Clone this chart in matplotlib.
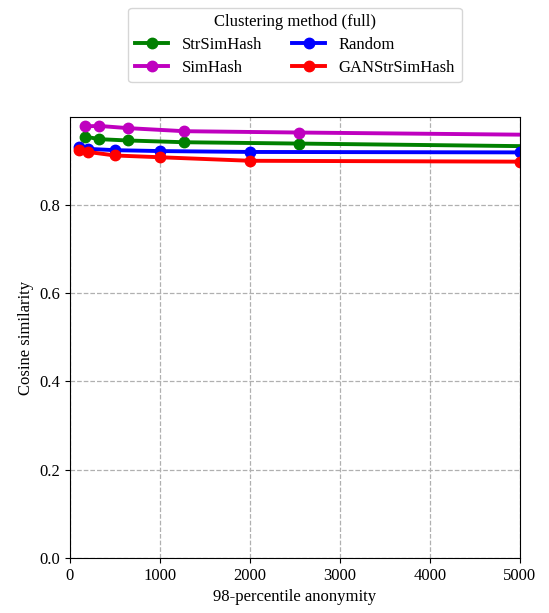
import matplotlib
matplotlib.use("Agg")
import matplotlib.pyplot as plt

plt.rcParams["font.family"] = ["Liberation Serif", "DejaVu Serif"]
plt.rcParams["font.size"] = 12

# 98-percentile anonymity vs cosine similarity, per clustering method
x_doubling = [167, 322, 641, 1270, 2544, 5090]
strsimhash = [0.955, 0.949, 0.946, 0.942, 0.939, 0.933]
simhash = [0.978, 0.979, 0.974, 0.967, 0.964, 0.959]

x_fixed = [100, 200, 500, 1000, 2000, 5000]
random_ = [0.931, 0.927, 0.924, 0.922, 0.920, 0.919]
ganstrsimhash = [0.924, 0.920, 0.912, 0.908, 0.900, 0.898]

series = [
    ("StrSimHash", x_doubling, strsimhash, "g"),
    ("SimHash", x_doubling, simhash, "m"),
    ("Random", x_fixed, random_, "b"),
    ("GANStrSimHash", x_fixed, ganstrsimhash, "r"),
]

fig = plt.figure(figsize=(5.49, 6.13), dpi=100)
ax = fig.add_axes([0.1275, 0.0897, 0.8195, 0.7193])

for label, xs, ys, c in series:
    ax.plot(xs, ys, "-o", color=c, lw=2.8, ms=7.5, label=label)

ax.set_xlim(0, 5000)
ax.set_ylim(0, 0.999)
ax.grid(True, ls="--", color="#b0b0b0", lw=0.9)
ax.set_xlabel("98-percentile anonymity")
ax.set_ylabel("Cosine similarity")
ax.legend(title="Clustering method (full)", ncol=2, loc="lower center",
          bbox_to_anchor=(0.5, 1.06), fontsize=12, title_fontsize=12,
          handlelength=2.0, columnspacing=1.8, borderpad=0.4,
          labelspacing=0.4)

fig.savefig("out.png", dpi=100)
